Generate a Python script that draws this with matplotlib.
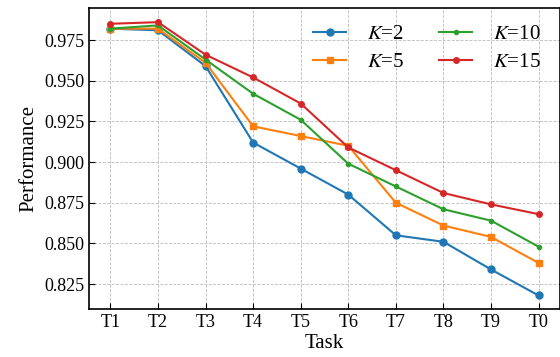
import numpy as np
import matplotlib
matplotlib.use("Agg")
import matplotlib.pyplot as plt

plt.rcParams['font.family'] = ['Liberation Serif', 'DejaVu Serif']
plt.rcParams['mathtext.fontset'] = 'stix'

tasks = ["T1", "T2", "T3", "T4", "T5", "T6", "T7", "T8", "T9", "T0"]
k2 = [0.982, 0.981, 0.959, 0.912, 0.896, 0.880, 0.855, 0.851, 0.834, 0.818]
k5 = [0.982, 0.982, 0.961, 0.922, 0.916, 0.910, 0.875, 0.861, 0.854, 0.838]
k10 = [0.982, 0.984, 0.963, 0.942, 0.926, 0.899, 0.885, 0.871, 0.864, 0.848]
k15 = [0.985, 0.986, 0.966, 0.952, 0.936, 0.909, 0.895, 0.881, 0.874, 0.868]

x = np.arange(len(tasks))

fig = plt.figure(figsize=(5.6, 3.57), dpi=100)
ax = fig.add_axes([89/560, 1 - 309/357, (560 - 89)/560, (309 - 8)/357])

ax.plot(x, k2, color="#1f77b4", marker="o", markersize=5, lw=1.5, label="$K$=2")
ax.plot(x, k5, color="#ff7f0e", marker="s", markersize=5, lw=1.5, label="$K$=5")
ax.plot(x, k10, color="#2ca02c", marker="o", markersize=3, lw=1.5, label="$K$=10")
ax.plot(x, k15, color="#d62728", marker="o", markersize=4, lw=1.5, label="$K$=15")

ax.set_xticks(x)
ax.set_xticklabels(tasks)
ax.set_xlim(-0.45, 9.45)
ax.set_ylim(0.8097, 0.9947)
yt = [0.825, 0.850, 0.875, 0.900, 0.925, 0.950, 0.975]
ax.set_yticks(yt)
ax.set_yticklabels(["%.3f" % v for v in yt])
ax.tick_params(direction="in", labelsize=13, length=4)
ax.grid(True, linestyle="--", color="#bbbbbb", lw=0.6)
ax.set_xlabel("Task", fontsize=15, labelpad=2)
ax.set_ylabel("Performance", fontsize=15)
for s in ax.spines.values():
    s.set_linewidth(1.2)

ax.legend(ncol=2, loc="upper right", frameon=False, fontsize=15,
          handlelength=1.6, handletextpad=1.0, columnspacing=1.65,
          labelspacing=0.4, borderaxespad=0.4, bbox_to_anchor=(0.995, 1.0))

fig.savefig("out.png", dpi=100)
